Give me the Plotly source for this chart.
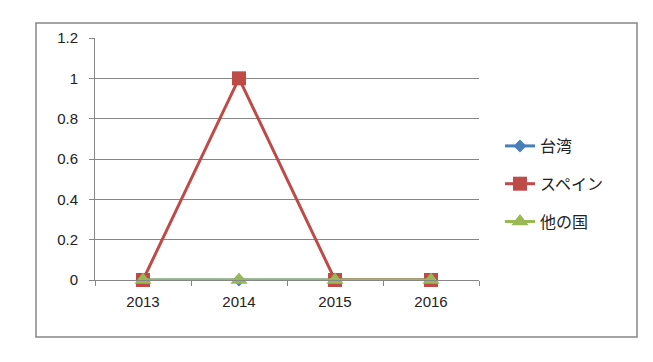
import plotly.graph_objects as go

years = ["2013", "2014", "2015", "2016"]
taiwan = [0, 0, 0, 0]
spain = [0, 1, 0, 0]
others = [0, 0, 0, 0]

fig = go.Figure()
series = [
    ("台湾", taiwan, "#4A7EBB", "diamond", 10),
    ("スペイン", spain, "#BE4B48", "square", 14),
    ("他の国", others, "#98B954", "triangle-up", 15),
]
for i, (name, vals, col, sym, sz) in enumerate(series):
    fig.add_trace(go.Scatter(
        x=years, y=vals, name=name, mode="lines+markers",
        line=dict(color=col, width=3),
        marker=dict(symbol=sym, size=sz, color=col),
        legendgroup=f"g{i}", cliponaxis=False,
    ))

OFF = 8  # page body margin
FW, FH = 653 - OFF, 362 - OFF
L, R, T, B = 95 - OFF, 653 - 479, 38 - OFF, 362 - 280
W = FW - L - R
H = FH - T - B

fig.update_layout(
    width=FW, height=FH,
    margin=dict(l=L, r=R, t=T, b=B),
    paper_bgcolor="white", plot_bgcolor="white",
    font=dict(family="Liberation Sans, Noto Sans CJK JP", size=14, color="#222"),
    showlegend=True,
    legend=dict(
        x=(500 - 95) / W, y=(280 - 184) / H, xanchor="left", yanchor="middle",
        font=dict(size=16, family="Noto Sans CJK JP", color="#222"),
        traceorder="grouped", tracegroupgap=14, bgcolor="rgba(0,0,0,0)",
    ),
    xaxis=dict(
        type="category", range=[-0.5, 3.5],
        showline=True, linecolor="#868686", linewidth=1,
        ticks="outside", tickson="boundaries", ticklen=5, tickcolor="#868686",
        showgrid=False, tickfont=dict(size=15), ticklabelstandoff=8,
    ),
    yaxis=dict(
        range=[0, 1.2], dtick=0.2,
        showline=True, linecolor="#868686", linewidth=1,
        ticks="outside", ticklen=5, tickcolor="#868686",
        showgrid=True, gridcolor="#868686", gridwidth=1,
        zeroline=False, tickfont=dict(size=15), ticklabelstandoff=8,
    ),
    shapes=[dict(
        type="rect", xref="paper", yref="paper",
        x0=(36 - 95) / W, x1=(637 - 95) / W,
        y0=(280 - 337) / H, y1=(280 - 23) / H,
        line=dict(color="#868686", width=1.5), fillcolor="rgba(0,0,0,0)",
    )],
)

fig.write_html("out.html")
